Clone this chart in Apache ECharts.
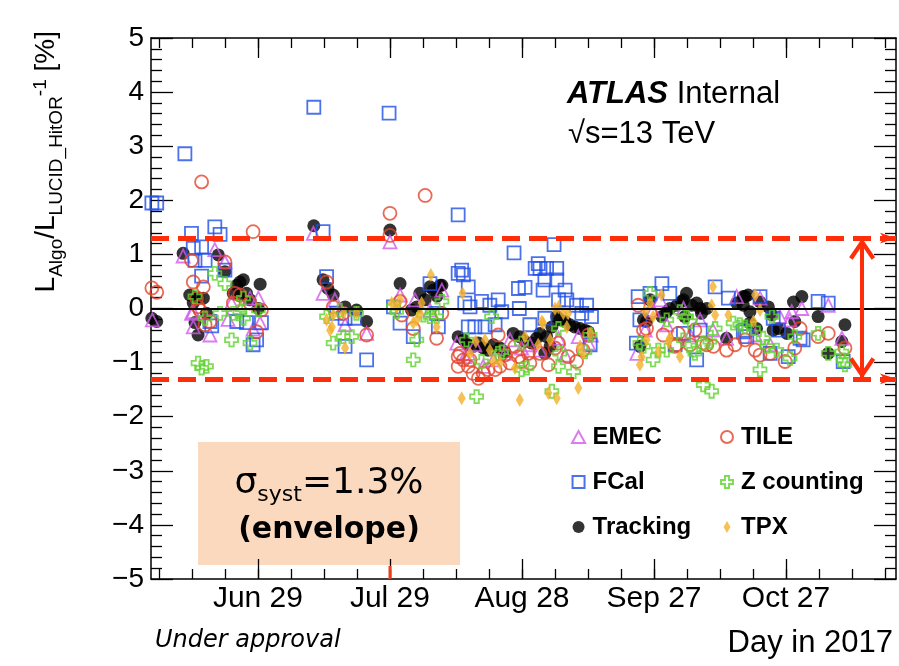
<!DOCTYPE html>
<html><head><meta charset="utf-8">
<script src="https://cdn.jsdelivr.net/npm/echarts@6/dist/echarts.min.js"></script>
<style>html,body{margin:0;padding:0;background:#fff}#c{width:899px;height:666px}</style>
</head><body><div id="c"></div>
<script>
// x values are day-of-year 2017, y values are L_Algo/L_LUCID_HitOR - 1 in %
const xMajorDays = [180, 210, 240, 270, 300];
const xMajorLabels = ['Jun 29', 'Jul 29', 'Aug 28', 'Sep 27', 'Oct 27'];
const xMinorDays = [157.5,165,172.5,180,187.5,195,202.5,210,217.5,225,232.5,240,247.5,255,262.5,270,277.5,285,292.5,300,307.5,315,322.5];
const envelope = 1.3;

const emec = [[163.0,0.97],[170.2,1.09],[172.5,0.86],[164.9,-0.09],[165.3,-0.34],[169.1,-0.49],[156.0,-0.21],[174.0,0.10],[178.2,0.19],[180.1,0.19],[178.9,-0.38],[180.5,-0.27],[165.3,-0.06],[173.2,-0.20],
[192.6,1.39],[194.8,0.28],[210.0,1.23],[204.7,-0.46],[212.3,0.25],[221.8,0.34],[225.2,-0.64],[197.5,0.16],[199.8,-0.30],[215.7,0.16],[219.1,-0.03],
[227.0,-0.89],[227.8,-0.83],[231.2,-1.07],[233.5,-0.95],[236.1,-0.83],[239.9,-0.73],[244.1,-0.77],[248.3,-0.55],[252.8,-0.52],[255.1,-0.64],[255.8,-0.49],[241.8,-0.67],[237.3,-0.58],[229.3,-0.67],[249.8,-0.86],
[266.1,-0.83],[269.8,-0.03],[272.9,-0.30],[286.5,-0.55],[288.8,0.22],[276.7,0.00],[271.4,0.16],[280.5,-0.21],[283.4,-0.40],[278.2,-0.49],[268.0,-0.40],
[294.1,0.19],[303.6,0.00],[301.3,-0.06],[300.9,-0.21],[309.6,0.06],[312.7,-0.55],[298.6,-0.15],[293.0,-0.49],[296.4,-0.67]];

const tile = [[167.2,2.34],[155.9,0.38],[157.0,0.30],[178.9,1.42],[164.9,0.89],[172.5,0.86],[165.3,0.49],[167.6,0.40],[166.1,0.19],[166.4,0.03],[166.8,-0.03],[169.1,-0.24],[174.8,0.28],[175.9,0.25],[174.4,0.10],[178.2,0.10],[180.8,-0.03],[179.7,-0.43],[168.0,-0.30],
[218.0,2.09],[210.0,1.76],[195.6,0.49],[197.1,0.03],[199.4,-0.09],[204.7,-0.49],[212.3,0.13],[212.7,-0.12],[215.3,-0.37],[220.6,-0.55],[221.8,-0.09],[225.5,-0.89],[225.5,-1.07],[210.0,1.35],
[234.6,-0.49],[225.9,-0.83],[226.7,-0.95],[227.8,-1.07],[228.9,-1.20],[230.1,-1.29],[231.2,-1.20],[233.9,-1.13],[235.0,-1.07],[238.4,-0.70],[239.2,-0.89],[239.9,-0.98],[241.8,-1.01],[241.4,-0.83],[246.0,-1.04],[244.1,-0.83],[247.5,-0.73],[248.3,-0.64],[250.5,-0.89],[252.4,-0.98],[253.9,-0.77],[255.1,-0.49],[228.2,-0.95],[232.3,-1.13],[236.1,-0.86],[237.3,-1.01],
[266.4,0.06],[267.6,-0.40],[268.3,-0.37],[269.1,-0.09],[274.8,-0.70],[275.2,-0.67],[279.3,-0.40],[282.0,-0.67],[283.5,-0.70],[281.2,-0.64],[286.5,-0.77],[272.1,-0.49],[275.5,-0.46],[278.2,-0.67],[288.4,-0.67],
[309.6,-0.46],[307.3,-0.52],[303.2,-0.37],[293.0,-0.77],[294.1,-0.86],[296.4,-0.83],[299.8,-0.98],[302.0,-0.73],[313.4,-0.73],[290.7,-0.58]];

const fcal = [[163.4,2.86],[155.9,1.95],[157.0,1.95],[164.9,1.39],[170.2,1.51],[171.4,1.37],[165.3,1.11],[167.2,1.14],[165.7,0.89],[168.0,0.89],[167.2,0.60],[172.5,0.71],[169.1,-0.24],[169.5,-0.32],[175.2,-0.24],[177.4,-0.26],[180.8,-0.26],[179.7,-0.58],[178.9,-0.67],
[192.7,3.72],[209.8,3.61],[225.5,1.73],[194.8,1.42],[195.6,0.59],[210.8,0.03],[197.9,-0.09],[199.8,-0.18],[202.0,-0.18],[212.3,-0.27],[199.8,-0.70],[204.7,-0.95],[215.3,-0.52],[219.1,0.46],[221.0,-0.34],[225.5,0.65],[220.6,-0.09],
[247.3,1.18],[238.2,1.03],[226.3,0.71],[226.7,0.62],[227.8,0.40],[243.7,0.83],[243.0,0.74],[244.1,0.74],[245.6,0.74],[247.9,0.74],[245.2,0.53],[247.9,0.53],[239.2,0.37],[240.7,0.39],[244.8,0.34],[249.8,0.34],[248.3,0.16],[250.2,0.16],[227.0,0.10],[228.2,0.03],[230.8,0.13],[232.7,0.06],[234.6,0.16],[235.4,-0.06],[239.4,0.00],[252.4,0.06],[254.7,0.06],[253.6,-0.09],[255.8,-0.15],[227.8,-0.34],[229.3,-0.34],[231.6,-0.34],[233.9,-0.30],[241.8,-0.30],[245.2,-0.18],[255.5,-0.67],
[271.8,0.46],[273.6,0.28],[266.4,0.22],[266.8,-0.21],[283.9,0.40],[286.9,0.19],[274.8,-0.67],[279.7,-0.95],[276.7,-0.46],[280.5,-0.40],[290.7,-0.40],[291.1,-0.52],[269.1,0.28],[266.0,-0.64],
[294.1,0.22],[307.3,0.13],[309.6,0.10],[297.1,-0.18],[298.3,-0.40],[303.2,-0.55],[303.9,-0.58],[296.4,-0.83],[300.5,-0.89],[313.0,-0.98],[290.3,-0.43]];

const tracking = [[163.0,1.02],[171.0,0.99],[172.5,0.68],[155.9,-0.18],[157.0,-0.24],[164.5,0.25],[165.3,0.10],[166.4,0.19],[167.6,0.19],[165.7,-0.26],[166.4,-0.49],[168.3,-0.09],[175.9,0.49],[176.7,0.53],[175.2,0.43],[174.4,0.28],[175.9,0.25],[177.4,0.28],[178.2,0.16],[180.5,0.45],[180.1,0.00],
[192.7,1.53],[210.0,1.45],[194.8,0.53],[195.9,0.37],[197.1,0.25],[199.8,0.03],[202.4,-0.03],[204.7,-0.24],[212.3,0.46],[216.8,0.28],[219.1,0.40],[219.9,0.34],[221.8,0.43],[214.9,-0.03],[216.1,0.03],[225.5,-0.52],[218.0,0.16],[220.7,0.23],[221.4,0.43],
[226.7,-0.58],[227.8,-0.67],[228.9,-0.70],[230.1,-0.64],[231.2,-0.73],[232.3,-0.77],[233.5,-0.67],[235.0,-0.73],[236.1,-0.80],[238.0,-0.46],[239.5,-0.52],[240.7,-0.61],[242.2,-0.64],[243.3,-0.55],[244.1,-0.46],[245.6,-0.52],[246.8,-0.34],[247.9,-0.15],[248.6,-0.21],[249.8,-0.24],[250.9,-0.30],[252.0,-0.34],[253.2,-0.37],[254.3,-0.40],[255.1,-0.43],[245.2,-0.83],[246.4,-0.70],
[266.8,-0.70],[267.6,-0.21],[268.3,-0.24],[271.8,-0.15],[272.9,-0.06],[273.6,0.00],[275.2,0.06],[276.3,0.13],[277.4,0.28],[276.7,0.16],[278.6,0.06],[279.7,0.10],[280.5,0.00],[282.0,0.00],[280.8,-0.09],[277.0,-0.15],[286.5,-0.55],[288.8,0.10],[290.3,0.22],[291.4,0.25],[269.1,0.16],
[290.7,0.22],[290.3,0.06],[291.8,-0.06],[294.1,0.12],[296.0,0.03],[296.8,-0.12],[301.7,0.12],[303.6,0.22],[307.3,-0.15],[302.0,-0.24],[298.3,-0.37],[297.1,-0.40],[300.2,-0.46],[313.4,-0.30],[312.7,-0.61],[309.6,-0.83],[293.3,-0.37],[291.8,-0.27]];

const zcount = [[170.2,0.65],[172.5,0.46],[165.7,0.22],[168.0,-0.18],[171.4,-0.09],[166.4,-1.01],[167.2,-1.10],[168.3,-1.07],[174.0,-0.58],[174.4,-0.09],[175.9,-0.06],[176.7,0.19],[178.2,-0.64],[180.1,-0.03],[176.7,-0.18],
[195.6,-0.15],[198.6,-0.03],[202.4,-0.09],[197.1,-0.64],[199.4,-0.52],[201.3,-0.52],[210.8,0.03],[211.5,-0.06],[216.1,-0.58],[215.3,-0.95],[217.6,-0.12],[219.1,-0.15],[220.6,-0.15],[221.8,0.13],
[233.1,-0.15],[227.4,-0.58],[234.6,-0.83],[235.4,-0.80],[230.8,-0.98],[239.9,-0.64],[239.9,-1.13],[241.1,-1.10],[248.3,-0.37],[248.6,-0.83],[248.3,-1.07],[251.7,-1.17],[254.3,-0.80],[255.5,-0.49],[229.7,-1.63],[246.8,-1.53],
[269.1,0.28],[272.9,-0.21],[275.9,-0.06],[277.4,-0.15],[278.2,-0.24],[266.8,-0.64],[267.6,-0.70],[269.8,-0.95],[271.0,-0.77],[272.9,-0.77],[276.7,-0.58],[279.0,-0.77],[281.2,-0.64],[282.7,-0.61],[283.9,-0.37],[288.0,-0.27],[289.5,-0.30],[281.2,-1.41],[283.1,-1.53],[279.3,-0.83],
[296.8,-0.15],[292.6,-0.37],[290.7,-0.34],[307.3,-0.46],[302.0,-0.52],[294.8,-0.55],[295.6,-0.70],[297.9,-0.77],[300.9,-0.92],[309.6,-0.83],[312.7,-0.80],[313.0,-0.95],[313.4,-1.04],[294.1,-1.13]];

const tpx = [[195.6,-0.21],[196.8,-0.34],[197.1,-0.12],[199.4,-0.09],[199.8,-0.73],[202.4,-0.09],[210.4,0.10],[211.5,0.03],[212.3,0.16],[215.3,-0.27],[216.1,-0.21],[216.8,-0.09],[217.2,0.10],[219.3,0.62],[220.6,-0.34],[196.4,-0.40],
[226.5,0.28],[229.5,-0.61],[231.6,-0.58],[232.7,-0.77],[228.2,-0.83],[233.5,-0.98],[235.0,-1.01],[240.7,-0.52],[244.5,-0.24],[244.8,-0.27],[243.7,-0.67],[246.4,-0.58],[247.5,0.00],[248.3,0.03],[249.4,-0.09],[250.5,-0.09],[250.2,-0.34],[253.2,-0.70],[253.9,-0.83],[255.5,-0.46],[226.3,-1.66],[239.5,-1.69],[246.0,-1.56],[247.9,-1.66],[252.8,-1.47],[238.4,-1.10],
[271.7,0.25],[269.1,0.10],[268.0,-0.06],[269.8,-0.15],[268.3,-0.58],[267.2,-0.89],[266.8,-1.04],[271.0,-0.80],[273.3,-0.61],[273.6,-0.55],[275.9,-0.89],[283.1,0.06],[283.9,-0.12],[286.9,-0.12],[283.4,0.40],
[293.0,0.25],[294.1,-0.03],[292.6,-0.24]];

const FONT = "'Liberation Sans', Arial, Helvetica, sans-serif";
const CROSS = 'path://M3.3,0 H6.7 V3.3 H10 V6.7 H6.7 V10 H3.3 V6.7 H0 V3.3 H3.3 Z';
const CHEVRON = 'path://M13,-21.5 L13.15,-21.5 L13.07,-21.35 Z M13,0 L26,19 L22.5,21.5 L13,7.5 L3.5,21.5 L0,19 Z';
const ICON_TRI = 'path://M6,0 L12,11 L0,11 Z';
const ICON_SQ = 'path://M0,0 L11,0 L11,11 L0,11 Z';
const ICON_CIRC = 'path://M0,5.5 A5.5,5.5 0 1,0 11,5.5 A5.5,5.5 0 1,0 0,5.5 Z';
const ICON_DIA = 'path://M4,0 L8,7 L4,14 L0,7 Z';
const RED = '#FF2E0A';

function dayLabel(v) {
  for (let i = 0; i < xMajorDays.length; i++) if (Math.abs(xMajorDays[i] - v) < 0.01) return xMajorLabels[i];
  return '';
}
const XMIN = 155.7, XMAX = 325;
function xAx(pos, ticks, len, showLabel, showLine) {
  return {
    type: 'value', position: pos, min: XMIN, max: XMAX,
    axisLine: { show: showLine, onZero: false, lineStyle: { color: '#000', width: 1.5 } },
    axisTick: { show: true, inside: true, length: len, customValues: ticks, lineStyle: { color: '#000', width: 1.3 } },
    axisLabel: { show: showLabel, customValues: xMajorDays, formatter: dayLabel, fontSize: 30, fontFamily: FONT, color: '#000', margin: 5 },
    splitLine: { show: false }
  };
}
function yAx(pos, showLabel) {
  return {
    type: 'value', position: pos, min: -5, max: 5, interval: 1,
    axisLine: { show: true, onZero: false, lineStyle: { color: '#000', width: 1.5 } },
    axisTick: { show: true, inside: true, length: 22, lineStyle: { color: '#000', width: 1.3 } },
    minorTick: { show: true, splitNumber: 5, length: 11, lineStyle: { color: '#000', width: 1.3 } },
    axisLabel: { show: showLabel, fontSize: 28, fontFamily: FONT, color: '#000', margin: 7,
      formatter: v => (v < 0 ? '\u2212' + Math.abs(v) : String(v)) },
    splitLine: { show: false }
  };
}
function openStyle(c) { return { color: 'rgba(255,255,255,0)', borderColor: c, borderWidth: 1.8 }; }
const legendText = { fontSize: 24, fontWeight: 'bold', fontFamily: FONT, color: '#000', lineHeight: 26 };

const chart = echarts.init(document.getElementById('c'), null, { renderer: 'canvas' });
chart.setOption({
  animation: false,
  backgroundColor: '#fff',
  grid: { left: 151, right: 3, top: 38, bottom: 87, containLabel: false, outerBoundsMode: 'none' },
  xAxis: [
    xAx('bottom', xMajorDays, 20, true, true),
    xAx('bottom', xMinorDays, 10, false, false),
    xAx('top', xMajorDays, 20, false, true),
    xAx('top', xMinorDays, 10, false, false)
  ],
  yAxis: [yAx('left', true), yAx('right', false)],
  legend: [
    { orient: 'vertical', left: 566, top: 419, itemWidth: 18, itemHeight: 12, itemGap: 19, selectedMode: false,
      data: [{ name: 'EMEC', icon: ICON_TRI }, { name: 'FCal', icon: ICON_SQ }, { name: 'Tracking', icon: ICON_CIRC }],
      textStyle: legendText },
    { orient: 'vertical', left: 715, top: 419, itemWidth: 18, itemHeight: 12, itemGap: 19, selectedMode: false,
      data: [{ name: 'TILE', icon: ICON_CIRC }, { name: 'Z counting', icon: CROSS }, { name: 'TPX', icon: ICON_DIA }],
      textStyle: legendText }
  ],
  series: [
    { name: 'zero', type: 'line', data: [], z: 1, silent: true,
      markLine: { silent: true, symbol: 'none', label: { show: false },
        lineStyle: { color: '#000', width: 2, type: 'solid' }, data: [{ yAxis: 0 }] } },
    { name: 'Tracking', type: 'scatter', data: tracking, symbol: 'circle', symbolSize: 13, z: 2,
      itemStyle: { color: '#000' } },
    { name: 'EMEC', type: 'scatter', data: emec, symbol: 'triangle', symbolSize: 13, z: 3, itemStyle: openStyle('#D25AEC') },
    { name: 'FCal', type: 'scatter', data: fcal, symbol: 'rect', symbolSize: 13, z: 3, itemStyle: openStyle('#1F4FE6') },
    { name: 'TILE', type: 'scatter', data: tile, symbol: 'circle', symbolSize: 13, z: 3, itemStyle: openStyle('#E2452C') },
    { name: 'Z counting', type: 'scatter', data: zcount, symbol: CROSS, symbolSize: 13, z: 3, itemStyle: openStyle('#5FD32E') },
    { name: 'TPX', type: 'scatter', data: tpx, symbol: 'diamond', symbolSize: [8, 14], z: 3, itemStyle: { color: '#F2B02C' } },
    { name: 'envelope', type: 'line', data: [], z: 6, silent: true,
      markLine: { silent: true, label: { show: false },
        data: [
          { yAxis: envelope, symbol: 'none', lineStyle: { color: RED, width: 5, type: [18, 9] } },
          { yAxis: -envelope, symbol: 'none', lineStyle: { color: RED, width: 5, type: [18, 9] } },
          [ { coord: [317.3, envelope], symbol: CHEVRON, symbolSize: [26, 43], lineStyle: { color: RED, width: 4, type: 'solid' } },
            { coord: [317.3, -envelope], symbol: CHEVRON, symbolSize: [26, 43] } ]
        ] } }
  ],
  graphic: [
    { type: 'rect', z: 0, shape: { x: 198, y: 442, width: 262, height: 123 }, style: { fill: '#FAD9BF' } },
    { type: 'text', z: 5, x: 329, y: 484, style: {
        text: '{m|\u03c3}{s|syst}{m|=1.3%}', align: 'center', verticalAlign: 'middle',
        rich: { m: { fontSize: 36, fontFamily: 'DejaVu Sans', lineHeight: 44, fill: '#000' },
                s: { fontSize: 22, fontFamily: 'DejaVu Sans', lineHeight: 19, verticalAlign: 'bottom', fill: '#000' } } } },
    { type: 'text', z: 5, x: 329, y: 530, style: { text: '(envelope)', fontSize: 30, fontWeight: 'bold', fontFamily: 'DejaVu Sans', align: 'center', verticalAlign: 'middle', fill: '#000' } },
    { type: 'line', z: 5, shape: { x1: 390, y1: 566, x2: 390, y2: 579 }, style: { stroke: '#E8401C', lineWidth: 3 } },
    { type: 'text', z: 5, x: 567, y: 94, style: {
        text: '{b|ATLAS}{r| Internal}', verticalAlign: 'middle',
        rich: { b: { fontSize: 31, fontWeight: 'bold', fontStyle: 'italic', fontFamily: FONT, fill: '#000' },
                r: { fontSize: 31, fontFamily: FONT, fill: '#000' } } } },
    { type: 'text', z: 5, x: 568, y: 134, style: { text: '\u221as=13 TeV', fontSize: 31, fontFamily: FONT, verticalAlign: 'middle', fill: '#000' } },
    { type: 'text', z: 5, x: 155, y: 641, style: { text: 'Under approval', fontSize: 24, fontStyle: 'italic', fontFamily: 'DejaVu Sans', verticalAlign: 'middle', fill: '#000' } },
    { type: 'text', z: 5, x: 893, y: 643, style: { text: 'Day in 2017', fontSize: 31, fontFamily: FONT, align: 'right', verticalAlign: 'middle', fill: '#000' } },
    { type: 'text', z: 5, x: 46, y: 31, rotation: Math.PI / 2, style: {
        text: '{m|L}{s|Algo}{m|/L}{s|LUCID_HitOR}{p|-1}{m| [%]}', align: 'right', verticalAlign: 'middle',
        rich: { m: { fontSize: 28, fontFamily: FONT, lineHeight: 40, fill: '#000' },
                s: { fontSize: 19, fontFamily: FONT, lineHeight: 22, verticalAlign: 'bottom', fill: '#000' },
                p: { fontSize: 19, fontFamily: FONT, lineHeight: 22, verticalAlign: 'top', padding: [5, 0, 0, 0], fill: '#000' } } } }
  ]
});
</script>
</body></html>
